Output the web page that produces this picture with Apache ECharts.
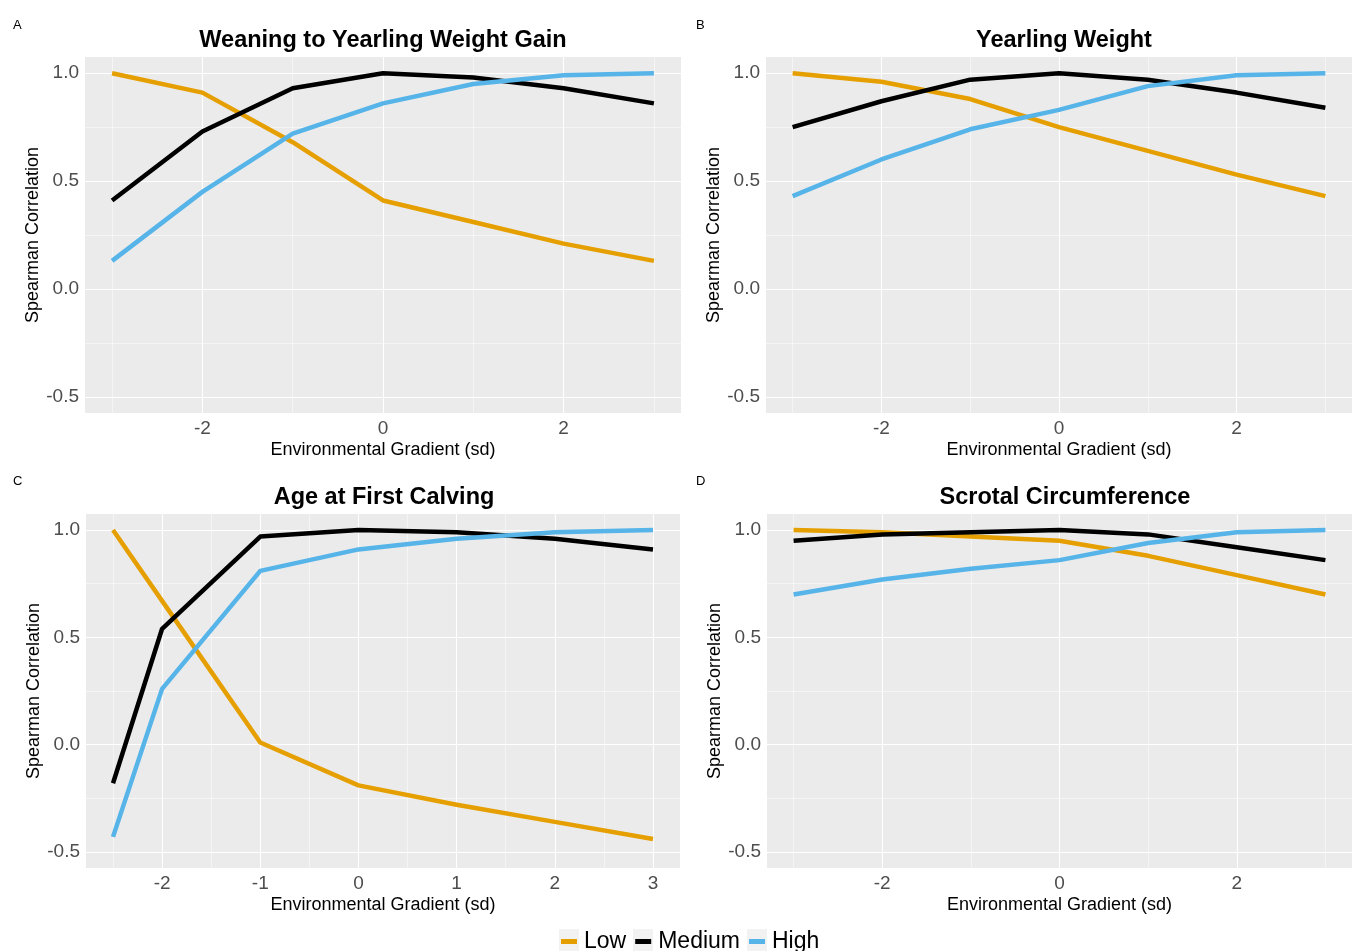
<!DOCTYPE html>
<html>
<head>
<meta charset="utf-8">
<script src="https://cdn.jsdelivr.net/npm/echarts@6/dist/echarts.min.js"></script>
<style>
  html, body { margin: 0; padding: 0; background: #fff; }
  #chart { width: 1352px; height: 951px; }
</style>
</head>
<body>
<div id="chart"></div>
<script>
// Environmental gradient positions (sd)
const gradStd = [-3, -2, -1, 0, 1, 2, 3];
const gradAfc = [-2.5, -2, -1, 0, 1, 2, 3];

// A: Weaning to Yearling Weight Gain
const wygLow    = [1.00, 0.91, 0.68, 0.41, 0.31, 0.21, 0.13];
const wygMedium = [0.41, 0.73, 0.93, 1.00, 0.98, 0.93, 0.86];
const wygHigh   = [0.13, 0.45, 0.72, 0.86, 0.95, 0.99, 1.00];

// B: Yearling Weight
const ywLow    = [1.00, 0.96, 0.88, 0.75, 0.64, 0.53, 0.43];
const ywMedium = [0.75, 0.87, 0.97, 1.00, 0.97, 0.91, 0.84];
const ywHigh   = [0.43, 0.60, 0.74, 0.83, 0.94, 0.99, 1.00];

// C: Age at First Calving
const afcLow    = [1.00, 0.67, 0.01, -0.19, -0.28, -0.36, -0.44];
const afcMedium = [-0.18, 0.54, 0.97, 1.00, 0.99, 0.96, 0.91];
const afcHigh   = [-0.43, 0.26, 0.81, 0.91, 0.96, 0.99, 1.00];

// D: Scrotal Circumference
const scLow    = [1.00, 0.99, 0.97, 0.95, 0.88, 0.79, 0.70];
const scMedium = [0.95, 0.98, 0.99, 1.00, 0.98, 0.92, 0.86];
const scHigh   = [0.70, 0.77, 0.82, 0.86, 0.94, 0.99, 1.00];

const panelTitles = ['Weaning to Yearling Weight Gain', 'Yearling Weight', 'Age at First Calving', 'Scrotal Circumference'];
const panelTags = ['A', 'B', 'C', 'D'];
const groupNames = ['Low', 'Medium', 'High'];
const groupColors = ['#E69F00', '#000000', '#56B4E9'];

const yTicks = [-0.5, 0.0, 0.5, 1.0];
const yMinor = [-0.25, 0.25, 0.75];
const xTicksStd = [-2, 0, 2];
const xMinorStd = [-3, -1, 1, 3];
const xTicksAfc = [-2, -1, 0, 1, 2, 3];
const xMinorAfc = [-2.5, -1.5, -0.5, 0.5, 1.5, 2.5];

const panels = [
  { x: gradStd, ys: [wygLow, wygMedium, wygHigh], xr: [-3.3, 3.3], xt: xTicksStd, xm: xMinorStd,
    grid: { left: 85, top: 57, width: 596, height: 356 } },
  { x: gradStd, ys: [ywLow, ywMedium, ywHigh], xr: [-3.3, 3.3], xt: xTicksStd, xm: xMinorStd,
    grid: { left: 766, top: 57, width: 596, height: 356 } },
  { x: gradAfc, ys: [afcLow, afcMedium, afcHigh], xr: [-2.775, 3.275], xt: xTicksAfc, xm: xMinorAfc,
    grid: { left: 86, top: 514, width: 594, height: 354 } },
  { x: gradStd, ys: [scLow, scMedium, scHigh], xr: [-3.3, 3.3], xt: xTicksStd, xm: xMinorStd,
    grid: { left: 767, top: 514, width: 596, height: 354 } }
];

const FONT = '"Liberation Sans", Arial, sans-serif';

const grids = [], xAxes = [], yAxes = [], series = [], titles = [];

panels.forEach((p, i) => {
  grids.push(Object.assign({ show: true, backgroundColor: '#EBEBEB', borderWidth: 0 }, p.grid));

  xAxes.push({
    type: 'value', gridIndex: i, min: p.xr[0], max: p.xr[1],
    axisLine: { show: false },
    axisTick: { show: true, length: 3, lineStyle: { color: '#333333', width: 1 }, customValues: p.xt },
    axisLabel: { customValues: p.xt, color: '#4D4D4D', fontSize: 19, fontFamily: FONT, margin: 6,
                 formatter: v => String(v) },
    splitLine: { show: false },
    name: 'Environmental Gradient (sd)', nameLocation: 'middle', nameGap: 28,
    nameTextStyle: { color: '#000', fontSize: 18, fontFamily: FONT }
  });

  yAxes.push({
    type: 'value', gridIndex: i, min: -0.575, max: 1.075,
    axisLine: { show: false },
    axisTick: { show: true, length: 3, lineStyle: { color: '#333333', width: 1 }, customValues: yTicks },
    axisLabel: { customValues: yTicks, color: '#4D4D4D', fontSize: 19, fontFamily: FONT, margin: 6,
                 formatter: v => v.toFixed(1) },
    splitLine: { show: false },
    name: 'Spearman Correlation', nameLocation: 'middle', nameGap: 43,
    nameTextStyle: { color: '#000', fontSize: 18, fontFamily: FONT }
  });

  // panel grid lines (major and minor), drawn beneath the data
  const major = { color: '#FFFFFF', width: 1.1, type: 'solid' };
  const minor = { color: '#FFFFFF', width: 0.5, type: 'solid' };
  const gl = [];
  p.xt.forEach(v => gl.push({ xAxis: v, lineStyle: major }));
  p.xm.forEach(v => gl.push({ xAxis: v, lineStyle: minor }));
  yTicks.forEach(v => gl.push({ yAxis: v, lineStyle: major }));
  yMinor.forEach(v => gl.push({ yAxis: v, lineStyle: minor }));
  series.push({
    type: 'line', xAxisIndex: i, yAxisIndex: i, z: 1, silent: true,
    data: [[0, 0]], showSymbol: false, symbol: 'none', lineStyle: { opacity: 0, width: 0 },
    tooltip: { show: false }, legendHoverLink: false,
    markLine: { z: 1, silent: true, symbol: 'none', label: { show: false }, animation: false, data: gl }
  });

  p.ys.forEach((ys, k) => {
    series.push({
      type: 'line', name: groupNames[k], xAxisIndex: i, yAxisIndex: i, z: 8,
      data: p.x.map((xv, j) => [xv, ys[j]]),
      showSymbol: false, symbol: 'none', animation: false,
      lineStyle: { color: groupColors[k], width: 4.5, join: 'round', cap: 'butt' },
      itemStyle: { color: groupColors[k] }
    });
  });

  titles.push({
    text: panelTitles[i],
    left: p.grid.left + 298,
    top: 29 + (i >= 2 ? 457 : 0),
    padding: 0,
    textAlign: 'center',
    textStyle: { fontSize: 23.5, fontWeight: 'bold', color: '#000', fontFamily: FONT }
  });
  titles.push({
    text: panelTags[i],
    left: (i % 2 === 0 ? 8 : 691),
    top: 14 + (i >= 2 ? 456 : 0),
    textStyle: { fontSize: 13, fontWeight: 'normal', color: '#000', fontFamily: FONT }
  });
});

// light key boxes behind the legend symbols
const keyBoxX = [559, 633, 747];
const keyBoxes = keyBoxX.map(x => ({
  type: 'rect', z: 0, silent: true,
  shape: { x: x, y: 929, width: 20, height: 22 },
  style: { fill: '#F2F2F2' }
}));

const chart = echarts.init(document.getElementById('chart'), null, { renderer: 'canvas' });
chart.setOption({
  backgroundColor: '#FFFFFF',
  animation: false,
  title: titles,
  grid: grids,
  xAxis: xAxes,
  yAxis: yAxes,
  graphic: keyBoxes,
  legend: {
    z: 5,
    data: groupNames.map((n, k) => ({ name: n, itemStyle: { color: groupColors[k] } })),
    bottom: -7, left: 556,
    icon: 'rect', itemWidth: 16, itemHeight: 5, itemGap: 9,
    textStyle: { fontSize: 23, color: '#000', fontFamily: FONT, padding: [0, 0, 0, 2] }
  },
  series: series
});
</script>
</body>
</html>
